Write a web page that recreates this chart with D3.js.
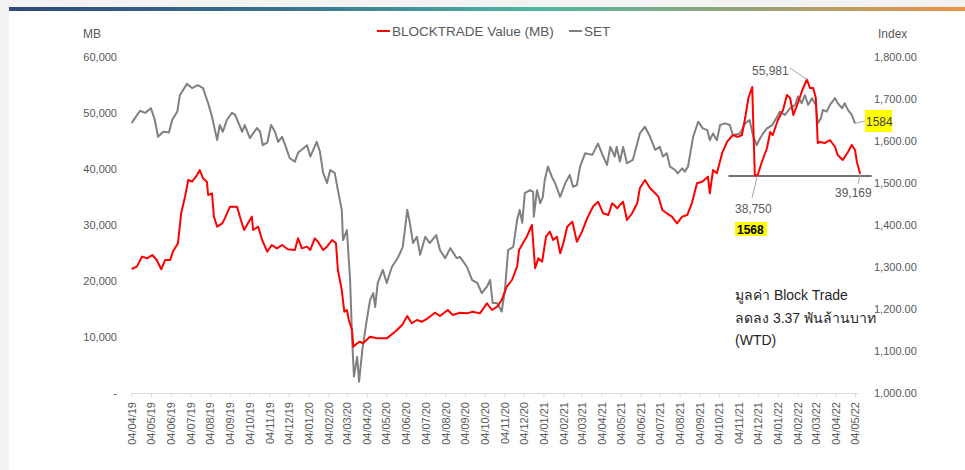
<!DOCTYPE html>
<html>
<head>
<meta charset="utf-8">
<script src="https://cdn.jsdelivr.net/npm/d3@7"></script>
<style>
  body { margin: 0; background: #f3f3f3; }
  text { font-family: "Liberation Sans", Arial, sans-serif; }
</style>
</head>
<body>
<svg id="chart"></svg>
<script>
// block trade value (MB, left axis) and SET index (right axis)

var setSeries = [
  ["2019-04-04",1643],["2019-04-17",1672],["2019-04-25",1667],["2019-05-04",1678],["2019-05-10",1650],
  ["2019-05-15",1610],["2019-05-23",1622],["2019-06-01",1620],["2019-06-06",1650],["2019-06-14",1670],
  ["2019-06-18",1709],["2019-06-29",1736],["2019-07-07",1726],["2019-07-16",1733],["2019-07-24",1726],
  ["2019-08-01",1690],["2019-08-07",1658],["2019-08-15",1602],["2019-08-19",1638],["2019-08-24",1622],
  ["2019-08-30",1650],["2019-09-07",1667],["2019-09-12",1662],["2019-09-23",1622],["2019-09-27",1638],
  ["2019-10-05",1607],["2019-10-16",1631],["2019-10-21",1622],["2019-10-25",1590],["2019-11-01",1596],
  ["2019-11-07",1638],["2019-11-13",1622],["2019-11-18",1598],["2019-11-24",1610],["2019-11-29",1590],
  ["2019-12-06",1559],["2019-12-14",1551],["2019-12-19",1572],["2020-01-02",1590],["2020-01-07",1563],
  ["2020-01-17",1598],["2020-01-22",1575],["2020-01-27",1524],["2020-02-02",1500],["2020-02-07",1531],
  ["2020-02-14",1524],["2020-02-19",1483],["2020-02-25",1436],["2020-02-27",1364],["2020-03-04",1388],
  ["2020-03-09",1269],["2020-03-12",1134],["2020-03-15",1039],["2020-03-20",1086],["2020-03-23",1027],
  ["2020-03-28",1102],["2020-04-04",1174],["2020-04-09",1221],["2020-04-14",1238],["2020-04-17",1205],
  ["2020-04-21",1262],["2020-04-29",1293],["2020-05-05",1262],["2020-05-13",1300],["2020-05-23",1324],
  ["2020-05-30",1348],["2020-06-06",1436],["2020-06-10",1405],["2020-06-15",1357],["2020-06-21",1372],
  ["2020-06-26",1329],["2020-07-04",1372],["2020-07-11",1357],["2020-07-21",1376],["2020-07-27",1340],
  ["2020-08-04",1321],["2020-08-12",1345],["2020-08-22",1321],["2020-08-27",1324],["2020-09-07",1300],
  ["2020-09-15",1269],["2020-09-23",1262],["2020-09-30",1238],["2020-10-08",1253],["2020-10-13",1269],
  ["2020-10-17",1214],["2020-10-24",1214],["2020-10-31",1194],["2020-11-05",1245],["2020-11-10",1340],
  ["2020-11-18",1348],["2020-11-24",1412],["2020-11-28",1436],["2020-12-02",1405],["2020-12-06",1476],
  ["2020-12-14",1483],["2020-12-19",1479],["2020-12-20",1420],["2020-12-25",1483],["2020-12-30",1452],
  ["2021-01-03",1467],["2021-01-06",1507],["2021-01-11",1539],["2021-01-17",1515],["2021-01-22",1500],
  ["2021-01-30",1467],["2021-02-07",1500],["2021-02-14",1519],["2021-02-19",1491],["2021-02-25",1495],
  ["2021-03-02",1539],["2021-03-10",1571],["2021-03-21",1567],["2021-03-30",1594],["2021-04-07",1563],
  ["2021-04-13",1543],["2021-04-18",1586],["2021-04-25",1563],["2021-04-28",1586],["2021-05-03",1551],
  ["2021-05-08",1586],["2021-05-14",1547],["2021-05-23",1555],["2021-05-30",1594],["2021-06-03",1618],
  ["2021-06-11",1634],["2021-06-19",1610],["2021-06-27",1579],["2021-07-04",1586],["2021-07-09",1563],
  ["2021-07-15",1571],["2021-07-20",1539],["2021-07-28",1531],["2021-08-01",1523],["2021-08-08",1535],
  ["2021-08-12",1527],["2021-08-17",1539],["2021-08-25",1610],["2021-09-02",1646],["2021-09-09",1630],
  ["2021-09-16",1626],["2021-09-20",1602],["2021-09-25",1618],["2021-10-01",1602],["2021-10-06",1638],
  ["2021-10-14",1642],["2021-10-21",1638],["2021-10-26",1614],["2021-11-06",1618],["2021-11-14",1642],
  ["2021-11-21",1650],["2021-11-26",1614],["2021-12-02",1590],["2021-12-07",1606],["2021-12-12",1618],
  ["2021-12-18",1630],["2021-12-26",1638],["2022-01-03",1658],["2022-01-07",1670],["2022-01-15",1662],
  ["2022-01-23",1678],["2022-01-31",1686],["2022-02-04",1706],["2022-02-10",1690],["2022-02-15",1709],
  ["2022-02-20",1686],["2022-02-26",1702],["2022-03-04",1686],["2022-03-07",1642],["2022-03-12",1654],
  ["2022-03-15",1674],["2022-03-21",1670],["2022-03-26",1686],["2022-04-03",1702],["2022-04-07",1690],
  ["2022-04-14",1678],["2022-04-18",1690],["2022-04-23",1674],["2022-04-29",1662],["2022-05-04",1642]
];

var blockSeries = [
  ["2019-04-04",22140],["2019-04-12",22560],["2019-04-20",24350],["2019-04-28",24050],["2019-05-06",24640],
  ["2019-05-13",23750],["2019-05-20",22090],["2019-05-26",23750],["2019-06-03",23750],["2019-06-07",25230],
  ["2019-06-15",26730],["2019-06-20",32090],["2019-06-26",35060],["2019-07-01",38040],["2019-07-07",37730],
  ["2019-07-13",38630],["2019-07-19",39820],["2019-07-24",38340],["2019-07-30",37730],["2019-08-01",35360],
  ["2019-08-07",35660],["2019-08-10",31490],["2019-08-15",29700],["2019-08-23",30300],["2019-08-27",31190],
  ["2019-09-04",33270],["2019-09-15",33270],["2019-09-21",30890],["2019-09-26",29110],["2019-10-02",30300],
  ["2019-10-08",31490],["2019-10-10",29110],["2019-10-18",29700],["2019-10-24",27320],["2019-11-01",25230],
  ["2019-11-08",26430],["2019-11-16",25830],["2019-11-24",26430],["2019-12-03",25660],["2019-12-14",25540],
  ["2019-12-19",27620],["2019-12-25",25830],["2020-01-02",26130],["2020-01-07",25540],["2020-01-14",27620],
  ["2020-01-19",27020],["2020-01-27",25540],["2020-02-02",26130],["2020-02-10",27320],["2020-02-16",26730],
  ["2020-02-19",21960],["2020-02-25",18390],["2020-02-29",14520],["2020-03-04",14820],["2020-03-07",13040],
  ["2020-03-12",11250],["2020-03-14",8270],["2020-03-20",8870],["2020-03-24",9160],["2020-03-29",8870],
  ["2020-04-09",10050],["2020-04-20",9760],["2020-05-05",9760],["2020-05-18",10950],["2020-05-29",12140],
  ["2020-06-06",13750],["2020-06-13",12450],["2020-06-21",13040],["2020-06-29",12730],["2020-07-08",13340],
  ["2020-07-19",14340],["2020-07-27",13750],["2020-08-08",14820],["2020-08-16",13930],["2020-08-27",14340],
  ["2020-09-07",14220],["2020-09-16",14520],["2020-09-27",14220],["2020-10-08",16010],["2020-10-16",14820],
  ["2020-10-24",15410],["2020-10-31",16610],["2020-11-08",18980],["2020-11-16",20180],["2020-11-24",22550],
  ["2020-11-27",25540],["2020-12-03",26730],["2020-12-09",27920],["2020-12-17",30000],["2020-12-22",22270],
  ["2020-12-27",24050],["2021-01-02",23450],["2021-01-08",27920],["2021-01-14",28810],["2021-01-19",27320],
  ["2021-01-25",27920],["2021-01-30",24940],["2021-02-04",26730],["2021-02-10",29700],["2021-02-18",30590],
  ["2021-02-25",27020],["2021-03-05",28810],["2021-03-13",31190],["2021-03-22",33270],["2021-03-30",34160],
  ["2021-04-07",32090],["2021-04-15",31790],["2021-04-21",33870],["2021-04-29",32980],["2021-05-03",33570],
  ["2021-05-08",34160],["2021-05-14",30890],["2021-05-22",32090],["2021-05-30",33870],["2021-06-03",36550],
  ["2021-06-11",38040],["2021-06-19",36550],["2021-06-27",35660],["2021-07-02",35060],["2021-07-08",32680],
  ["2021-07-15",32090],["2021-07-23",31490],["2021-07-31",30300],["2021-08-08",31490],["2021-08-16",31790],
  ["2021-08-23",33870],["2021-08-31",37450],["2021-09-08",37730],["2021-09-17",38630],["2021-09-20",35660],
  ["2021-09-25",39820],["2021-10-01",39230],["2021-10-09",42790],["2021-10-17",44880],["2021-10-26",46070],
  ["2021-11-03",45720],["2021-11-09",46070],["2021-11-14",49100],["2021-11-19",52680],["2021-11-25",54640],
  ["2021-11-29",38930],["2021-12-03",38750],["2021-12-10",41250],["2021-12-18",43750],["2021-12-23",46600],
  ["2021-12-27",46070],["2022-01-04",48750],["2022-01-12",50540],["2022-01-18",53200],["2022-01-23",52680],
  ["2022-01-28",49640],["2022-02-03",51430],["2022-02-11",54110],["2022-02-18",55981],["2022-02-23",54460],
  ["2022-02-28",54460],["2022-03-04",52680],["2022-03-07",44640],["2022-03-10",44820],["2022-03-18",44640],
  ["2022-03-26",45180],["2022-04-03",43930],["2022-04-07",42500],["2022-04-15",41610],["2022-04-23",43040],
  ["2022-04-29",44290],["2022-05-04",43390],["2022-05-07",41250],["2022-05-08",40800],["2022-05-12",39169]
];

var leftTicks = [0, 10000, 20000, 30000, 40000, 50000, 60000];
var rightTicks = [1000, 1100, 1200, 1300, 1400, 1500, 1600, 1700, 1800];
var seriesNames = ["BLOCKTRADE Value (MB)", "SET"];
var noteLines = ["มูลค่า Block Trade", "ลดลง 3.37 พันล้านบาท", "(WTD)"];

var width = 965, height = 470;
var parse = d3.timeParse("%Y-%m-%d");

var chart = d3.select("#chart").attr("width", width).attr("height", height);

var grad = chart.append("defs").append("linearGradient").attr("id", "topbar");
grad.append("stop").attr("offset", "0%").attr("stop-color", "#2c4a7c");
grad.append("stop").attr("offset", "30%").attr("stop-color", "#3a7391");
grad.append("stop").attr("offset", "55%").attr("stop-color", "#4fb7a1");
grad.append("stop").attr("offset", "78%").attr("stop-color", "#9aa377");
grad.append("stop").attr("offset", "100%").attr("stop-color", "#ee9243");

chart.append("rect").attr("width", width).attr("height", height).attr("fill", "#f3f3f3");
chart.append("rect").attr("x", 9).attr("y", 11).attr("width", width - 9).attr("height", height - 11).attr("fill", "#fff");
chart.append("rect").attr("x", 9).attr("y", 7).attr("width", width - 9).attr("height", 4).attr("fill", "url(#topbar)");

var xscale = d3.scaleTime()
    .domain([new Date(2019, 3, 4), new Date(2022, 4, 4)])
    .range([131.7, 855]);
var yleft = d3.scaleLinear().domain([0, 60000]).range([393, 57]);
var yright = d3.scaleLinear().domain([1000, 1800]).range([393, 57]);

// axes
var monthTicks = d3.range(0, 38).map(function(i) { return new Date(2019, 3 + i, 4); });

var xaxis = chart.append("g")
    .attr("transform", "translate(0,393)")
    .call(d3.axisBottom(xscale).tickValues(monthTicks).tickFormat(d3.timeFormat("%d/%m/%y")).tickSize(4).tickSizeOuter(0));
xaxis.select(".domain").attr("stroke", "#d9d9d9").attr("d", "M131,0.5H858");
xaxis.selectAll(".tick line").attr("stroke", "#d9d9d9");
xaxis.selectAll(".tick text")
    .attr("transform", "rotate(-90)")
    .attr("text-anchor", "end")
    .attr("x", -9).attr("y", 0).attr("dy", "0.35em")
    .attr("fill", "#595959").style("font-size", "11px");

var laxis = chart.append("g")
    .attr("transform", "translate(131,0)")
    .call(d3.axisLeft(yleft).tickValues(leftTicks)
      .tickFormat(function(d) { return d === 0 ? "-" : d3.format(",")(d); })
      .tickSize(0).tickPadding(14));
laxis.select(".domain").remove();
laxis.selectAll("text").attr("fill", "#595959").style("font-size", "11px");

var raxis = chart.append("g")
    .attr("transform", "translate(874,0)")
    .call(d3.axisRight(yright).tickValues(rightTicks).tickFormat(d3.format(",.2f")).tickSize(0).tickPadding(0));
raxis.select(".domain").remove();
raxis.selectAll("text").attr("fill", "#595959").style("font-size", "11px");

chart.append("text").attr("x", 83).attr("y", 38).text("MB").attr("fill", "#595959").style("font-size", "12px");
chart.append("text").attr("x", 878).attr("y", 38).text("Index").attr("fill", "#595959").style("font-size", "12px");

// reference line at the Dec-21 low
chart.append("line")
    .attr("x1", xscale(parse("2021-10-19"))).attr("x2", xscale(parse("2022-05-30")))
    .attr("y1", yleft(38750)).attr("y2", yleft(38750))
    .attr("stroke", "#404040").attr("stroke-width", 1.5);

var setLine = d3.line()
    .x(function(d) { return xscale(parse(d[0])); })
    .y(function(d) { return yright(d[1]); });
var blockLine = d3.line()
    .x(function(d) { return xscale(parse(d[0])); })
    .y(function(d) { return yleft(d[1]); });

chart.append("path").datum(setSeries).attr("d", setLine)
    .attr("fill", "none").attr("stroke", "#808080").attr("stroke-width", 2).attr("stroke-linejoin", "round");
chart.append("path").datum(blockSeries).attr("d", blockLine)
    .attr("fill", "none").attr("stroke", "#ff0000").attr("stroke-width", 2).attr("stroke-linejoin", "round");

// legend
var legend = chart.append("g").attr("transform", "translate(377,31)");
legend.append("line").attr("x1", 0).attr("x2", 13).attr("stroke", "#ff0000").attr("stroke-width", 2);
legend.append("text").attr("x", 15).attr("dy", "0.35em").text(seriesNames[0]).attr("fill", "#595959").style("font-size", "13.5px");
legend.append("line").attr("x1", 192).attr("x2", 205).attr("stroke", "#808080").attr("stroke-width", 2);
legend.append("text").attr("x", 207).attr("dy", "0.35em").text(seriesNames[1]).attr("fill", "#595959").style("font-size", "13.5px");

// annotations
var peak = blockSeries.find(function(d) { return d[1] === 55981; });
var low = blockSeries.find(function(d) { return d[1] === 38750; });
var last = blockSeries[blockSeries.length - 1];
var lastSet = setSeries[setSeries.length - 1];

chart.append("line").attr("x1", xscale(parse(peak[0]))).attr("y1", yleft(peak[1]))
    .attr("x2", 790).attr("y2", 68).attr("stroke", "#a6a6a6").attr("stroke-width", 1);
chart.append("text").attr("x", 752).attr("y", 75).text("55,981").attr("fill", "#595959").style("font-size", "12px");

chart.append("line").attr("x1", xscale(parse(low[0]))).attr("y1", yleft(low[1]))
    .attr("x2", 752).attr("y2", 198).attr("stroke", "#a6a6a6").attr("stroke-width", 1);
chart.append("text").attr("x", 735).attr("y", 213).text("38,750").attr("fill", "#595959").style("font-size", "12px");
chart.append("rect").attr("x", 735).attr("y", 222).attr("width", 32).attr("height", 14).attr("fill", "#ffff00");
chart.append("text").attr("x", 737).attr("y", 233.5).text("1568").attr("fill", "#000").style("font-size", "12px").style("font-weight", "bold");

chart.append("line").attr("x1", xscale(parse(last[0]))).attr("y1", yleft(last[1]))
    .attr("x2", 858).attr("y2", 184).attr("stroke", "#a6a6a6").attr("stroke-width", 1);
chart.append("text").attr("x", 835).attr("y", 197).text("39,169").attr("fill", "#595959").style("font-size", "12px");

chart.append("line").attr("x1", xscale(parse(lastSet[0]))).attr("y1", yright(lastSet[1]))
    .attr("x2", 865).attr("y2", 121).attr("stroke", "#a6a6a6").attr("stroke-width", 1);
chart.append("rect").attr("x", 865).attr("y", 110).attr("width", 27).attr("height", 22).attr("fill", "#ffff00");
chart.append("text").attr("x", 866).attr("y", 125.5).text("1584").attr("fill", "#404040").style("font-size", "12px");

chart.append("g").selectAll("text").data(noteLines).enter().append("text")
    .attr("x", 735).attr("y", function(d, i) { return 300 + i * 22.5; })
    .text(function(d) { return d; })
    .attr("fill", "#262626").style("font-size", "14px");
</script>
</body>
</html>
